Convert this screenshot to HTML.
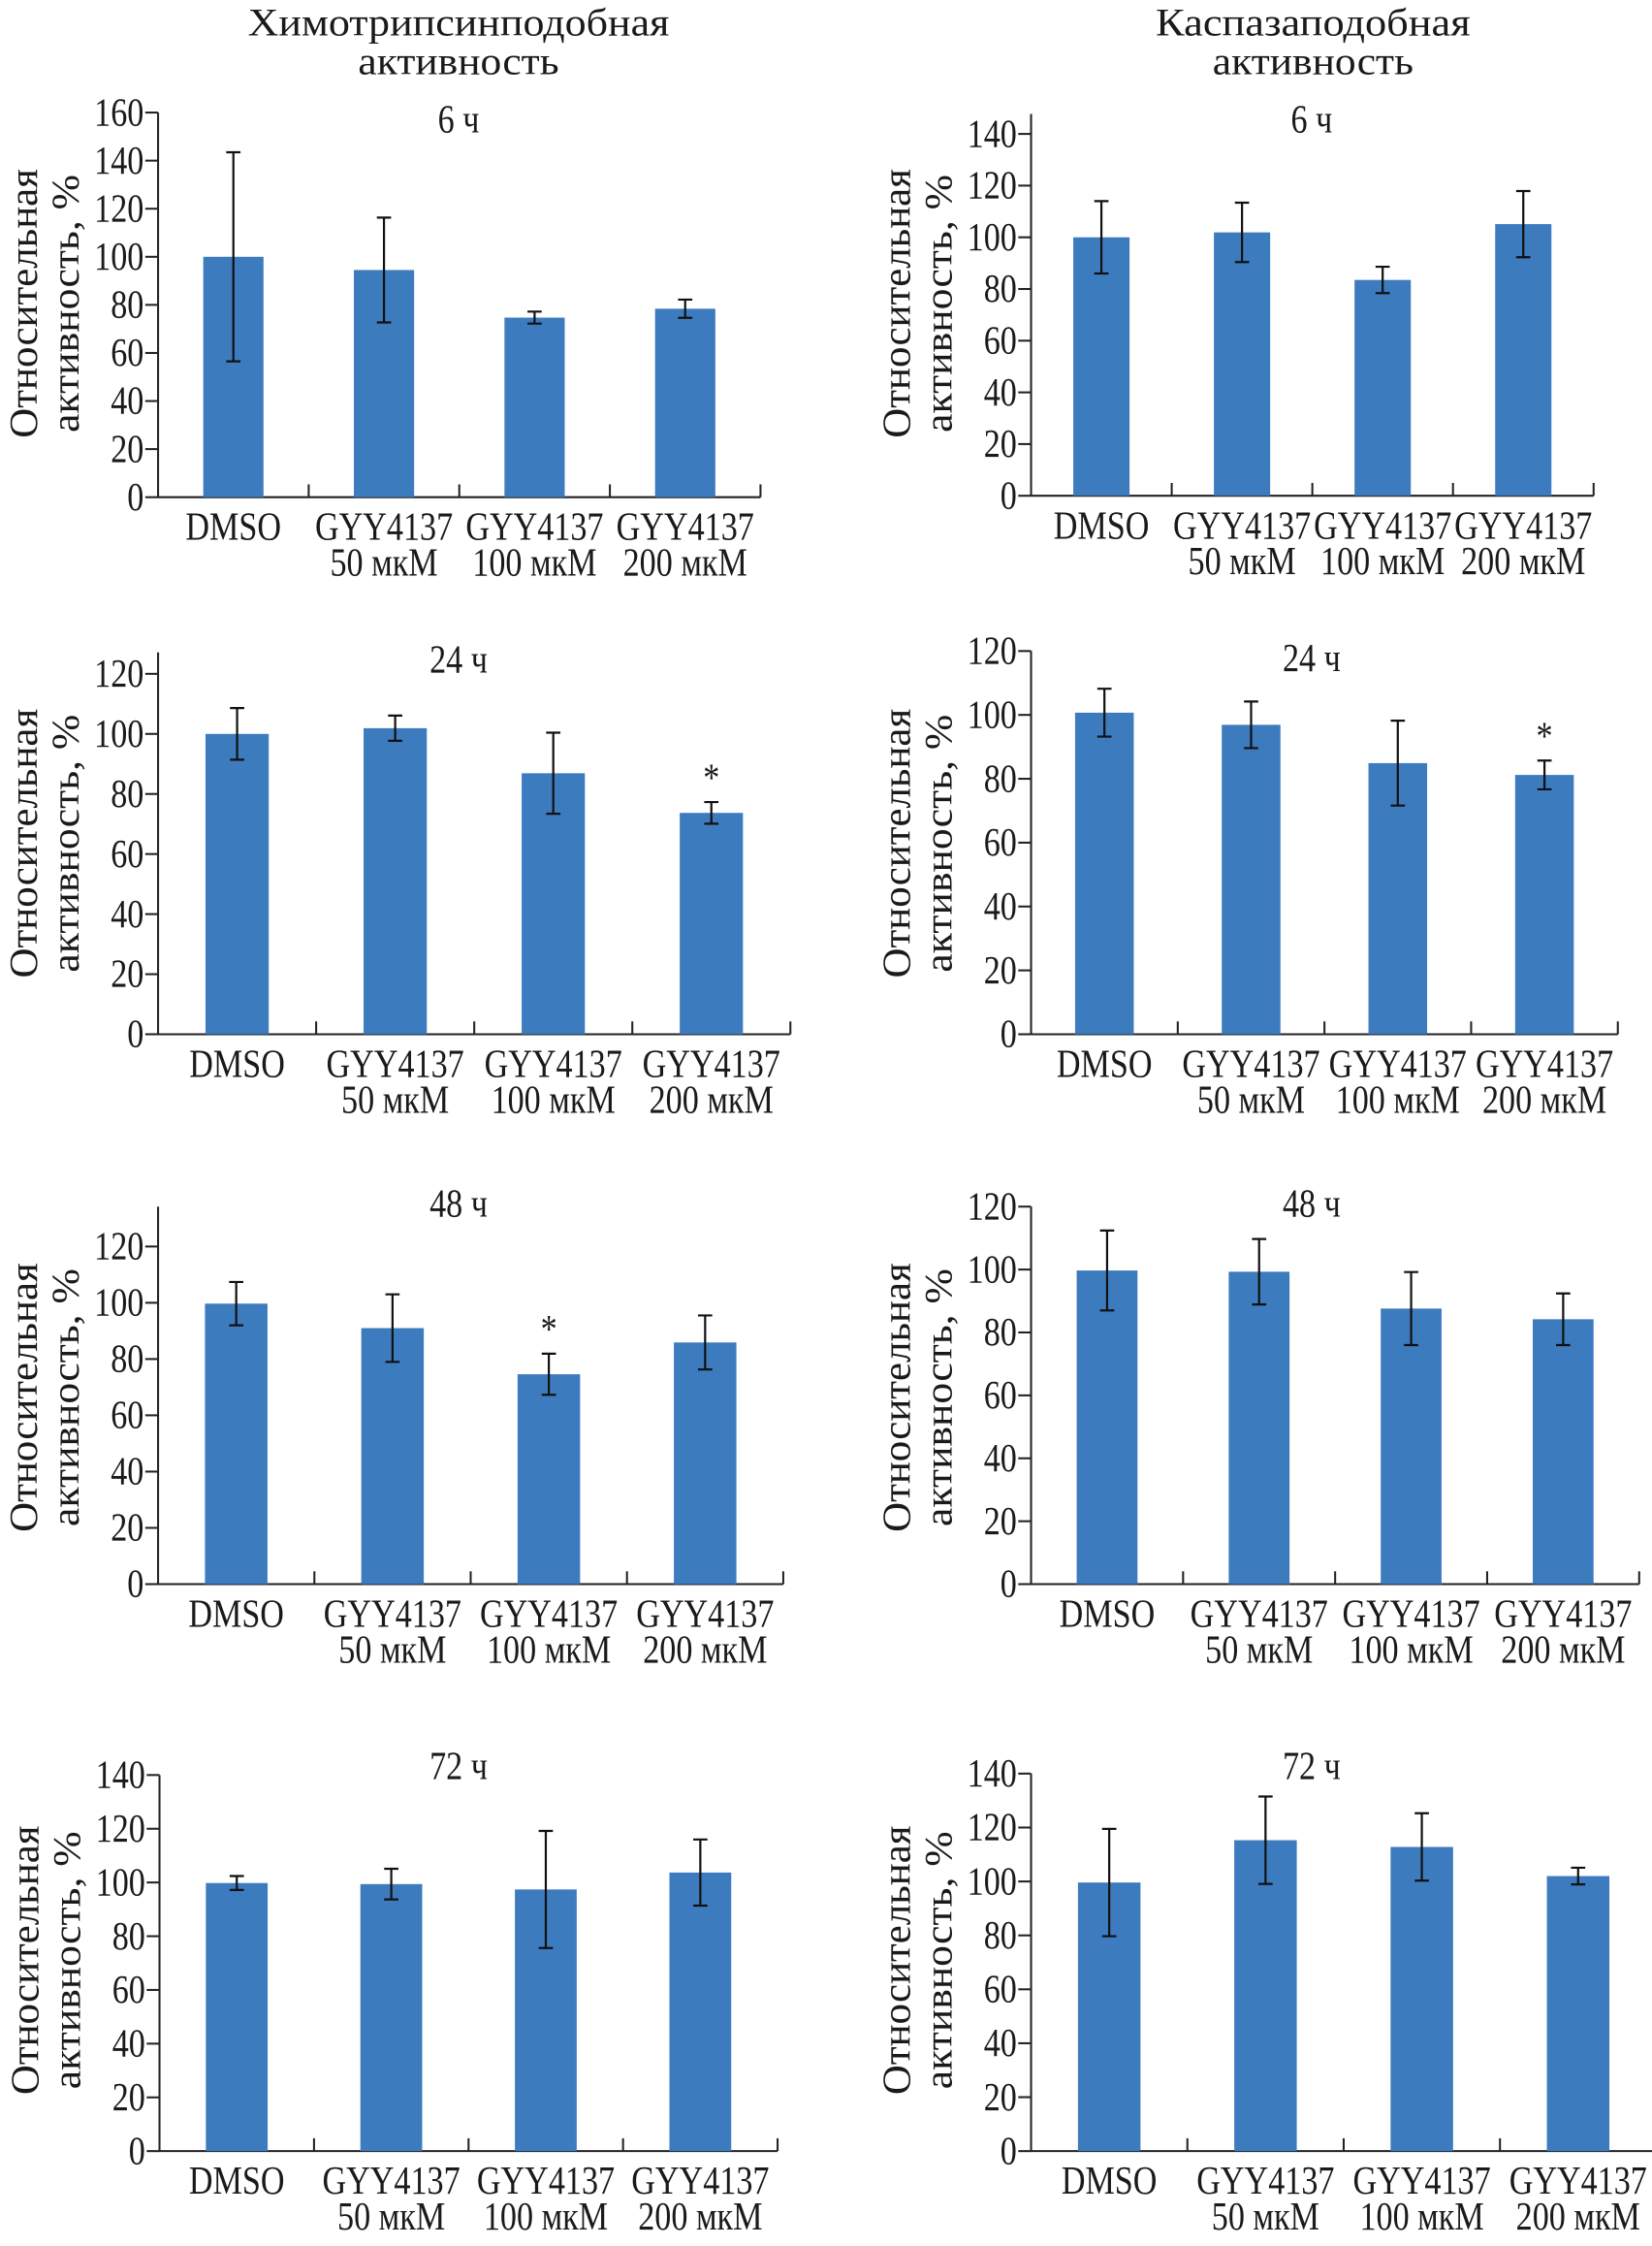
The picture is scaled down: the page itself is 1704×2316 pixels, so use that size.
<!DOCTYPE html>
<html><head><meta charset="utf-8">
<style>
html,body{margin:0;padding:0;background:#fff;}
svg{display:block;}
text{font-family:"Liberation Serif",serif;fill:#1a1a1a;}
</style></head>
<body>
<svg id="fig" width="1704" height="2316" viewBox="0 0 1160 1576.6" xmlns="http://www.w3.org/2000/svg">
<text x="322" y="25" font-size="27" text-anchor="middle" textLength="296" lengthAdjust="spacingAndGlyphs">Химотрипсинподобная</text>
<text x="322" y="52" font-size="27" text-anchor="middle" textLength="141" lengthAdjust="spacingAndGlyphs">активность</text>
<text x="922" y="25" font-size="27" text-anchor="middle" textLength="221" lengthAdjust="spacingAndGlyphs">Каспазаподобная</text>
<text x="922" y="52" font-size="27" text-anchor="middle" textLength="141" lengthAdjust="spacingAndGlyphs">активность</text>
</svg>
<script>
const categories = ["DMSO|", "GYY4137|50 мкМ", "GYY4137|100 мкМ", "GYY4137|200 мкМ"];
const panelTitles = ["6 ч","24 ч","48 ч","72 ч","6 ч","24 ч","48 ч","72 ч"];
const yMaxTicks = [160,120,120,140,140,120,120,140];
const values = [
 [100,94.5,74.7,78.4],
 [100,101.9,86.9,73.7],
 [99.7,91,74.6,85.9],
 [99.8,99.4,97.4,103.7],
 [100,101.9,83.5,105.1],
 [100.7,96.9,84.9,81.2],
 [99.7,99.3,87.6,84.2],
 [99.6,115.3,112.8,102]
];
const errors = [
 [43.5,21.8,2.5,3.8],
 [8.6,4.2,13.5,3.6],
 [7.7,12,7.3,9.6],
 [2.6,5.7,21.8,12.3],
 [14,11.5,5.1,12.8],
 [7.5,7.3,13.3,4.5],
 [12.7,10.4,11.6,8.2],
 [19.9,16.2,12.5,3.1]
];
const stars = [[],[3],[2],[],[],[3],[],[]];
// layout (not data)
const layout = [
 {x0:111,x1:534,y0:349,yT:79,axTop:79,tY:93,yl:213},
 {x0:111,x1:555,y0:726,yT:473,axTop:458,tY:472,yl:592},
 {x0:111,x1:550,y0:1112,yT:875,axTop:847,tY:854,yl:981},
 {x0:112,x1:546,y0:1510,yT:1246,axTop:1246,tY:1249,yl:1376},
 {x0:724,x1:1119,y0:348,yT:94,axTop:80,tY:93,yl:213},
 {x0:724,x1:1136,y0:726,yT:457,axTop:457,tY:471,yl:592},
 {x0:724,x1:1151,y0:1112,yT:847,axTop:847,tY:854,yl:981},
 {x0:724,x1:1163,y0:1510,yT:1245,axTop:1245,tY:1249,yl:1376}
];
const SX=0.83, FS=28;
const NS="http://www.w3.org/2000/svg";
const svg=document.getElementById('fig');
function mk(tag,attrs,parent){const e=document.createElementNS(NS,tag);for(const k in attrs)e.setAttribute(k,attrs[k]);(parent||svg).appendChild(e);return e;}
function txt(x,y,anchor,parent){return mk('text',{x:x/SX,y:y,'font-size':FS,'text-anchor':anchor,transform:`scale(${SX},1)`},parent);}
layout.forEach((L,p)=>{
  const g=mk('g',{});
  
  
  const ymax=yMaxTicks[p];
  const ys=v=>L.y0-(v/ymax)*(L.y0-L.yT);
  const n=categories.length, cw=(L.x1-L.x0)/n;
  const xc=i=>L.x0+cw*(i+0.5);
  const ya=mk('line',{x1:L.x0,y1:L.axTop,x2:L.x0,y2:L.y0,stroke:'#222','stroke-width':1.4},g);
  
  
  const xa=mk('line',{x1:L.x0,y1:L.y0,x2:L.x1,y2:L.y0,stroke:'#222','stroke-width':1.4},g);
  
  
  for(let v=0;v<=ymax;v+=20){
    const y=ys(v);
    const tk=mk('line',{x1:L.x0-9,y1:y,x2:L.x0,y2:y,stroke:'#222','stroke-width':1.4},g);
    
    
    const t=txt(L.x0-10,y+9,'end',g);
    t.textContent=v;
    
    
  }
  for(let i=1;i<=n;i++){
    const x=L.x0+cw*i;
    const s=mk('line',{x1:x,y1:L.y0-9,x2:x,y2:L.y0,stroke:'#222','stroke-width':1.4},g);
    
    
  }
  categories.forEach((c,i)=>{
    const [a,b]=c.split('|');
    const t1=txt(xc(i),L.y0+30,'middle',g);
    t1.textContent=a;
    
    
    if(b){const t2=txt(xc(i),L.y0+55,'middle',g);
      t2.textContent=b;
      
      }
    const v=values[p][i], e=errors[p][i], bw=cw*0.4;
    const r=mk('rect',{x:xc(i)-bw/2,y:ys(v),width:bw,height:L.y0-ys(v),fill:'#3d7bbf'},g);
    
    
    const eb=mk('path',{d:`M${xc(i)},${ys(v+e)}V${ys(v-e)}M${xc(i)-5},${ys(v+e)}h10M${xc(i)-5},${ys(v-e)}h10`,stroke:'#111','stroke-width':1.5,fill:'none'},g);
    
    
    if(stars[p].includes(i)){
      const st=txt(xc(i),ys(v+e)-8,'middle',g);
      st.textContent='*';
      
      
    }
  });
  const tt=txt(p<4?322:921,L.tY,'middle',g);
  tt.textContent=panelTitles[p];
  
  
  const lx1=L.x0-85, lx2=L.x0-56;
  const yl1=mk('text',{x:0,y:0,'font-size':28,'text-anchor':'middle',textLength:189,lengthAdjust:'spacingAndGlyphs',transform:`translate(${lx1},${L.yl}) rotate(-90)`},g);
  yl1.textContent='Относительная';
  
  
  const yl2=mk('text',{x:0,y:0,'font-size':27,'text-anchor':'middle',textLength:181,lengthAdjust:'spacingAndGlyphs',transform:`translate(${lx2},${L.yl}) rotate(-90)`},g);
  yl2.textContent='активность, %';
  
  
});
</script>
</body></html>
